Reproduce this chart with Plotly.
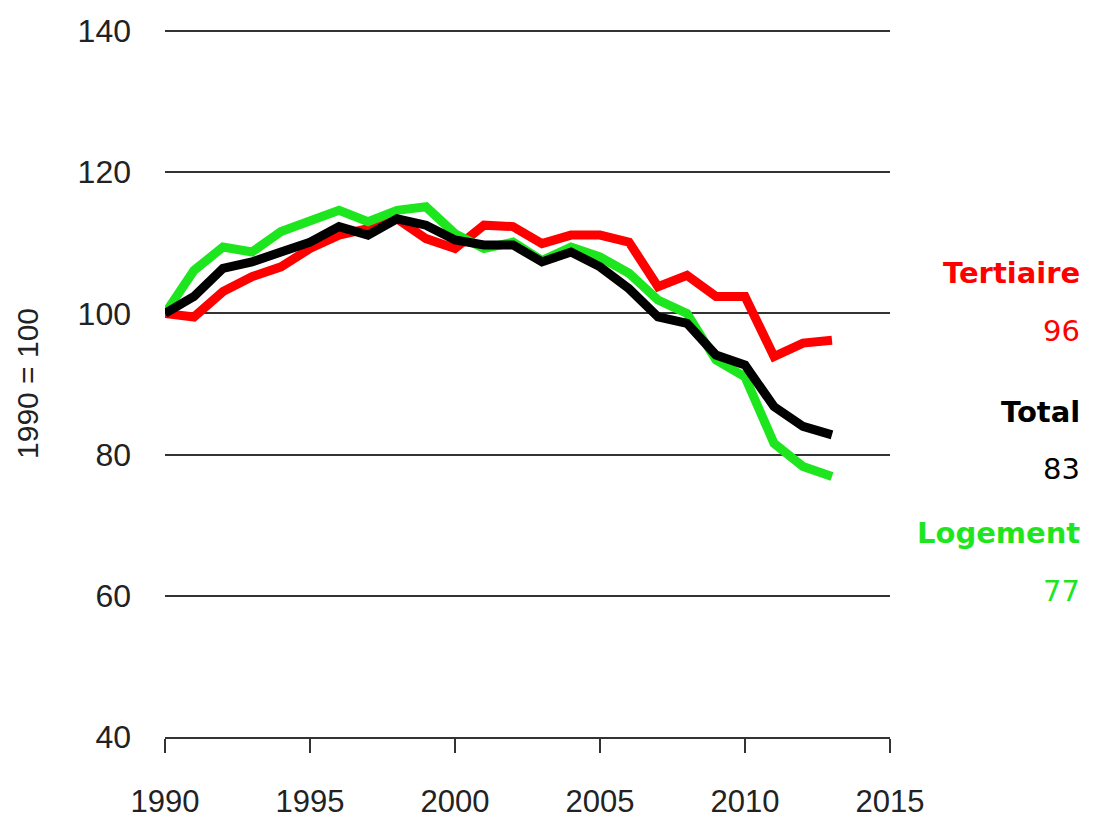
import plotly.graph_objects as go

years = list(range(1990, 2014))
tertiaire = [100, 99.5, 103.1, 105.2, 106.6, 109.2, 111.1, 112.0, 113.4, 110.6, 109.2, 112.5,
             112.3, 109.9, 111.1, 111.1, 110.1, 103.8, 105.4, 102.4, 102.4, 93.9, 95.8, 96.2]
logement = [100, 106.1, 109.4, 108.7, 111.6, 113.0, 114.6, 113.0, 114.6, 115.1, 111.3, 109.2,
            110.1, 107.5, 109.4, 108.0, 105.7, 101.9, 100.0, 93.4, 91.0, 81.6, 78.3, 76.9]
total = [100, 102.4, 106.4, 107.3, 108.7, 110.1, 112.3, 111.1, 113.4, 112.5, 110.4, 109.7,
         109.7, 107.3, 108.7, 106.6, 103.5, 99.5, 98.6, 94.1, 92.7, 86.8, 84.0, 82.8]

x_ticks = [1990, 1995, 2000, 2005, 2010, 2015]
y_ticks = [40, 60, 80, 100, 120, 140]

RED = "#ff0000"
GREEN = "#1ee61e"
BLACK = "#000000"

fig = go.Figure()
fig.add_trace(go.Scatter(x=years, y=tertiaire, mode="lines", line=dict(color=RED, width=9), name="Tertiaire"))
fig.add_trace(go.Scatter(x=years, y=logement, mode="lines", line=dict(color=GREEN, width=9), name="Logement"))
fig.add_trace(go.Scatter(x=years, y=total, mode="lines", line=dict(color=BLACK, width=9), name="Total"))

labels = [
    ("Tertiaire", 105.7, RED, True),
    ("96", 97.5, RED, False),
    ("Total", 86.1, BLACK, True),
    ("83", 77.9, BLACK, False),
    ("Logement", 68.9, GREEN, True),
    ("77", 60.7, GREEN, False),
]
for txt, yv, col, bold in labels:
    fig.add_annotation(
        x=1.265, xref="paper", y=yv, yref="y", text=f"<b>{txt}</b>" if bold else txt,
        showarrow=False, xanchor="right", yanchor="middle",
        font=dict(family="DejaVu Sans", size=29, color=col),
    )

fig.update_layout(
    width=1085, height=814,
    margin=dict(l=157, r=203, t=22, b=85, autoexpand=False),
    paper_bgcolor="white", plot_bgcolor="white",
    showlegend=False,
    font=dict(family="Liberation Sans", size=32, color="#222222"),
)
fig.update_xaxes(
    range=[1990, 2015], tickvals=x_ticks, ticktext=[str(v) for v in x_ticks],
    showgrid=False, zeroline=False, automargin=False,
    showline=True, linecolor="#333333", linewidth=1.5,
    ticks="outside", ticklen=14, tickwidth=1.5, tickcolor="#333333",
    ticklabelstandoff=22,
    tickfont=dict(family="Liberation Sans", size=31, color="#222222"),
)
fig.update_yaxes(
    range=[40, 140.15], tickvals=y_ticks, ticktext=[str(v) for v in y_ticks],
    showgrid=True, gridcolor="#333333", gridwidth=1.5, zeroline=False, automargin=False,
    showline=False, ticks="", ticklabelstandoff=33,
    tickfont=dict(family="Liberation Sans", size=32, color="#222222"),
    title=dict(text="1990 = 100", font=dict(family="Liberation Sans", size=30, color="#222222"), standoff=30),
)

fig.write_html("out.html")
